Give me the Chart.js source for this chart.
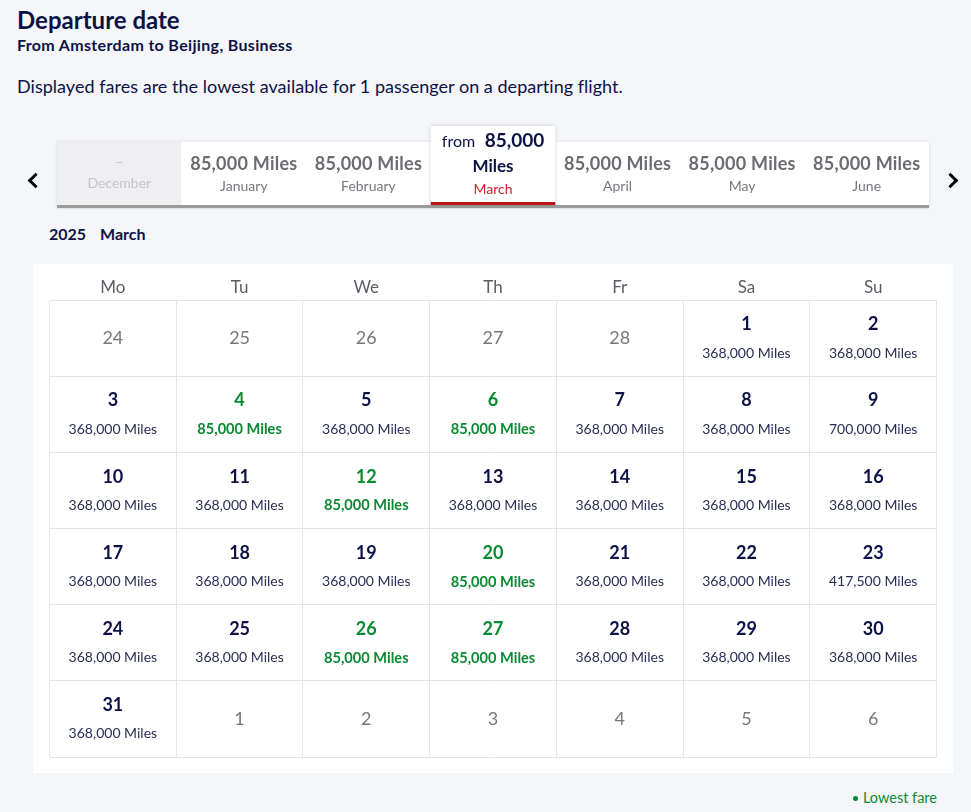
<!DOCTYPE html>
<html lang="en">
<head>
<meta charset="UTF-8">
<title>Departure date</title>
<script src="https://cdn.jsdelivr.net/npm/chart.js@4"></script>
<style>
    html, body { margin: 0; padding: 0; }
    body { width: 971px; height: 812px; position: relative; overflow: hidden; background: #f5f6f9; color: #0c1246; font-family: Lato, sans-serif; }
    .t { position: absolute; white-space: nowrap; line-height: 1; }
    canvas { position: absolute; }
    .chev { position: absolute; width: 8px; height: 8px; border-top: 3px solid #000; border-right: 3px solid #000; }
    .dot { display: inline-block; width: 5px; height: 5px; border-radius: 50%; background: #0a8a32; margin-right: 5px; vertical-align: 2px; }
</style>
</head>
<body>
    <div class="t" style="left:17px;top:8px;font-size:24px;font-weight:700">Departure date</div>
    <div class="t" style="left:17px;top:37px;font-size:16px;font-weight:700;letter-spacing:.34px">From Amsterdam to Beijing, Business</div>
    <div class="t" style="left:17px;top:77px;font-size:18px;letter-spacing:.03px">Displayed fares are the lowest available for 1 passenger on a departing flight.</div>
    <div class="chev" style="left:30px;top:175px;transform:rotate(-135deg)"></div>
    <div class="chev" style="left:945px;top:175px;transform:rotate(45deg)"></div>
    <canvas id="monthChart" width="911" height="95" style="left:40px;top:120px"></canvas>
    <div class="t" style="left:49px;top:226px;font-size:16px;font-weight:700;word-spacing:10px">2025 March</div>
    <canvas id="calChart" width="920" height="509" style="left:33px;top:264px;background:#fff"></canvas>
    <div class="t" style="right:34px;top:791px;font-size:14.5px;color:#0a8a32"><span class="dot"></span>Lowest fare</div>

    <script>
        const months = ["December", "January", "February", "March", "April", "May", "June"];
        const monthFares = [null, 85000, 85000, 85000, 85000, 85000, 85000];
        const selectedMonth = "March";

        const weekdays = ["Mo", "Tu", "We", "Th", "Fr", "Sa", "Su"];
        const weeks = ["w1", "w2", "w3", "w4", "w5", "w6"];
        const days = [
            24, 25, 26, 27, 28, 1, 2,
            3, 4, 5, 6, 7, 8, 9,
            10, 11, 12, 13, 14, 15, 16,
            17, 18, 19, 20, 21, 22, 23,
            24, 25, 26, 27, 28, 29, 30,
            31, 1, 2, 3, 4, 5, 6
        ];
        const dayFares = [
            null, null, null, null, null, 368000, 368000,
            368000, 85000, 368000, 85000, 368000, 368000, 700000,
            368000, 368000, 85000, 368000, 368000, 368000, 368000,
            368000, 368000, 368000, 85000, 368000, 368000, 417500,
            368000, 368000, 85000, 85000, 368000, 368000, 368000,
            368000, null, null, null, null, null, null
        ];

        const NAVY = "#0c1246", GREEN = "#0a8a32", GREY = "#6b6b72";
        const FONT = "Lato, sans-serif";
        const miles = v => v.toLocaleString("en-US") + " Miles";

        function text(ctx, str, x, y, font, color, spacing) {
            ctx.font = font + " " + FONT;
            ctx.fillStyle = color;
            ctx.textAlign = "center";
            ctx.textBaseline = "middle";
            ctx.letterSpacing = spacing || "0px";
            ctx.fillText(str, x, y);
        }

        // month strip: bars are the white cells, labels and the raised card come from the plugin
        const monthCells = {
            id: "monthCells",
            beforeDatasetsDraw(chart) {
                const { ctx, chartArea: a, scales: { x } } = chart;
                ctx.save();
                ctx.shadowColor = "rgba(0,0,0,0.12)";
                ctx.shadowBlur = 3;
                ctx.fillStyle = "#fff";
                ctx.fillRect(a.left, a.top, a.width, a.height);
                ctx.shadowColor = "rgba(0,0,0,0.25)";
                ctx.shadowBlur = 2;
                ctx.fillStyle = "#9c9c9c";
                ctx.fillRect(a.left, a.bottom, a.width, 3);
                ctx.shadowColor = "transparent";
                months.forEach((m, i) => {
                    if (monthFares[i] === null) {
                        const w = x.getPixelForValue(1) - x.getPixelForValue(0);
                        ctx.fillStyle = "#efeff1";
                        ctx.fillRect(x.getPixelForValue(i) - w / 2, a.top, w, a.height);
                    }
                });
                ctx.restore();
            },
            afterDatasetsDraw(chart) {
                const { ctx, chartArea: a, scales: { x } } = chart;
                const w = x.getPixelForValue(1) - x.getPixelForValue(0);
                ctx.save();
                months.forEach((m, i) => {
                    const cx = x.getPixelForValue(i);
                    if (m === selectedMonth) {
                        const left = cx - w / 2;
                        ctx.shadowColor = "rgba(0,0,0,0.2)";
                        ctx.shadowBlur = 4;
                        ctx.fillStyle = "#fff";
                        ctx.fillRect(left, a.top - 16, w, a.height + 16);
                        ctx.shadowColor = "transparent";
                        ctx.fillStyle = "#bf1118";
                        ctx.fillRect(left, a.bottom - 3, w, 3);
                        const parts = miles(monthFares[i]).split(" ");
                        text(ctx, "from", cx - 34.5, a.top, "16px", NAVY);
                        text(ctx, parts[0], cx + 21.5, a.top - 1, "bold 19px", NAVY);
                        text(ctx, parts[1], cx, a.top + 25, "bold 17px", NAVY);
                        text(ctx, m, cx, a.top + 47, "14px", "#d0202c");
                    } else if (monthFares[i] === null) {
                        text(ctx, "–", cx, a.top + 20, "15px", "#c8c8cc");
                        text(ctx, m, cx, a.top + 41, "14px", "#c4c4c8");
                    } else {
                        text(ctx, miles(monthFares[i]), cx, a.top + 22, "bold 18px", GREY, "0.25px");
                        text(ctx, m, cx, a.top + 44, "14px", "#77777d");
                    }
                });
                ctx.restore();
            }
        };

        new Chart(document.getElementById("monthChart"), {
            type: "bar",
            data: {
                labels: months,
                datasets: [{ data: monthFares, backgroundColor: "#fff", barPercentage: 1, categoryPercentage: 1 }]
            },
            plugins: [monthCells],
            options: {
                responsive: false,
                animation: false,
                layout: { padding: { left: 17, right: 22, top: 22, bottom: 10 } },
                plugins: { legend: { display: false }, tooltip: { enabled: false } },
                scales: {
                    x: { display: false },
                    y: { display: false, min: 0, max: 85000 }
                }
            }
        });

        // calendar grid: one invisible point per day, the number and fare are written at that point
        const dayPoints = days.map((d, i) => ({ x: i % 7, y: Math.floor(i / 7) }));
        const lowest = Math.min(...dayFares.filter(v => v !== null));

        const dayLabels = {
            id: "dayLabels",
            afterDatasetsDraw(chart) {
                const { ctx, scales: { x, y } } = chart;
                ctx.save();
                dayPoints.forEach((p, i) => {
                    const cx = x.getPixelForValue(p.x), cy = y.getPixelForValue(p.y);
                    const fare = dayFares[i];
                    if (fare === null) {
                        text(ctx, String(days[i]), cx, cy, "18px", "#77777d");
                        return;
                    }
                    const low = fare === lowest;
                    text(ctx, String(days[i]), cx, cy - 14, "bold 18px", low ? GREEN : NAVY);
                    if (low) text(ctx, miles(fare), cx, cy + 15, "bold 14.6px", GREEN);
                    else text(ctx, miles(fare), cx, cy + 15, "14px", "#2a2e55");
                });
                ctx.restore();
            }
        };

        new Chart(document.getElementById("calChart"), {
            type: "scatter",
            data: { datasets: [{ data: dayPoints, pointRadius: 0 }] },
            plugins: [dayLabels],
            options: {
                responsive: false,
                animation: false,
                layout: { padding: { left: 16.5, right: 16.5, bottom: 16, top: 0 } },
                plugins: { legend: { display: false }, tooltip: { enabled: false } },
                scales: {
                    x: {
                        type: "category",
                        labels: weekdays,
                        position: "top",
                        offset: true,
                        grid: { offset: true, color: "#e4e5e9", drawTicks: false },
                        border: { display: false },
                        ticks: { color: "#5c5c66", font: { family: FONT, size: 17 }, padding: 3, maxRotation: 0 },
                        afterFit(scale) { scale.height = 36.5; }
                    },
                    y: {
                        type: "category",
                        labels: weeks,
                        offset: true,
                        grid: { offset: true, color: "#e4e5e9", drawTicks: false },
                        border: { display: false },
                        ticks: { display: false },
                        afterFit(scale) { scale.width = 0; }
                    }
                }
            }
        });
    </script>
</body>
</html>
